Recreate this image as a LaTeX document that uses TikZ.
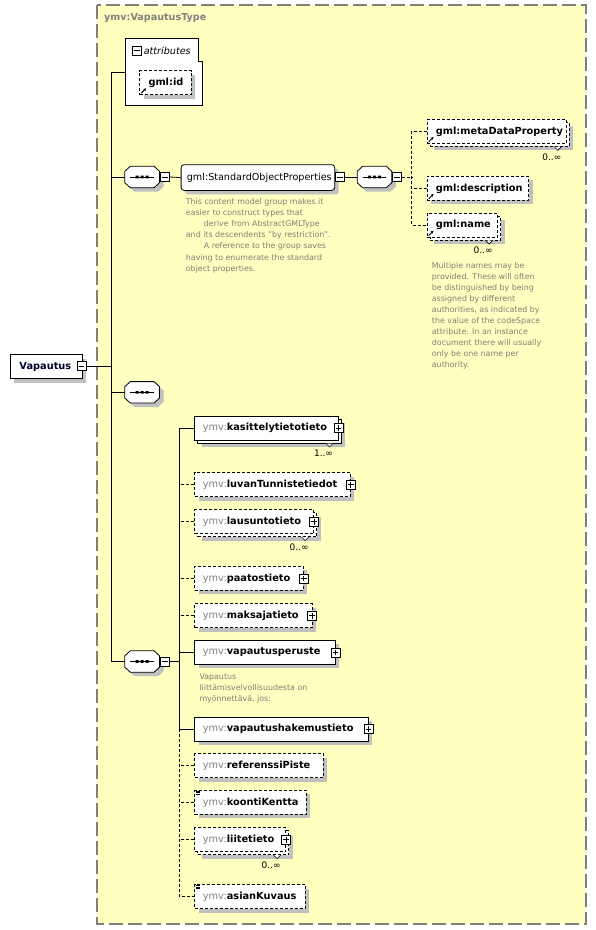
\documentclass[tikz,border=0pt]{standalone}
\usepackage{fontspec}
\setmainfont{DejaVu Sans}
\usetikzlibrary{arrows.meta}
\definecolor{bgy}{RGB}{255,255,192}
\definecolor{bord}{RGB}{128,128,128}
\definecolor{shad}{RGB}{192,192,192}
\definecolor{annc}{RGB}{128,128,120}
\definecolor{pref}{RGB}{128,128,128}
\definecolor{navy}{RGB}{0,0,48}
\newcommand\ymv{{\mdseries\color{pref}ymv:}}
\tikzset{
  shd/.style={preaction={fill=shad, transform canvas={shift={(4pt,-4pt)}}}},
  ebox/.style={draw, fill=white, line width=0.8pt, minimum height=24pt, anchor=north west, inner sep=0},
  dbox/.style={ebox, dash pattern=on 3pt off 2pt},
  ename/.style={font=\fontsize{9.8}{11}\selectfont\bfseries, inner sep=0, anchor=west},
  rname/.style={font=\fontsize{9.6}{11}\selectfont, inner sep=0, anchor=west},
  ann/.style={font=\fontsize{7.9}{11.1}\selectfont, text=annc, align=left, inner sep=0, anchor=north west},
  mult/.style={font=\fontsize{9}{10}\selectfont, inner sep=0},
  conn/.style={line width=0.8pt},
  dconn/.style={line width=0.8pt, dash pattern=on 3pt off 2pt},
  plusb/.style={draw, fill=white, minimum size=9pt, inner sep=0, line width=0.7pt,
    path picture={\draw[line width=0.7pt] ([xshift=1.6pt]path picture bounding box.west) -- ([xshift=-1.6pt]path picture bounding box.east)
      ([yshift=-1.6pt]path picture bounding box.north) -- ([yshift=1.6pt]path picture bounding box.south);}},
  minusb/.style={draw, fill=white, minimum size=9pt, inner sep=0, line width=0.7pt,
    path picture={\draw[line width=0.7pt] ([xshift=1.6pt]path picture bounding box.west) -- ([xshift=-1.6pt]path picture bounding box.east);}},
  octn/.style={draw=none, minimum width=34.3pt, minimum height=21pt, inner sep=0},
}
% element helpers
\newcommand\xbox[5]{\node[#2, shd, minimum width=#5pt] (#1) at (#3,#4) {};}
\newcommand\xstack[5]{\node[#2, shd, minimum width=#5pt] (#1b) at ({#3+3},{#4+3}) {};
  \node[#2, minimum width=#5pt] (#1) at (#3,#4) {};}
\newcommand\xtext[3]{\node[ename] (#1t) at ([xshift=#2pt]#1.west) {#3};}
\newcommand\xplus[1]{\node[plusb] (#1p) at (#1.east) {};}
\newcommand\xmult[2]{\draw[fill=white, line width=0.6pt] ([xshift=-15.5pt]#1b.south east) -- ([xshift=-12pt,yshift=-3.5pt]#1b.south east) -- ([xshift=-8.5pt]#1b.south east);
  \node[mult] (#1m) at ([xshift=-18pt,yshift=-10pt]#1b.south east) {#2};}
\newcommand\xref[1]{\draw[line width=1pt, -{Stealth[length=2.8pt,width=3pt]}] ([shift={(2pt,2pt)}]#1.south west) -- ([shift={(6.8pt,6.8pt)}]#1.south west);}
\newcommand\xsimple[1]{\draw[line width=0.6pt] ([shift={(1.5pt,-1.2pt)}]#1.north west) -- ++(4.5pt,0pt)
  ([shift={(1.5pt,-2.7pt)}]#1.north west) -- ++(4.5pt,0pt) ([shift={(1.5pt,-4.2pt)}]#1.north west) -- ++(4.5pt,0pt);}
\newcommand\xoct[3]{\node[octn] (#1) at (#2,#3) {};
  \draw[line width=0.8pt, fill=white, shd] ([xshift=5.5pt]#1.north west) -- ([xshift=-5.5pt]#1.north east) -- ([yshift=-5pt]#1.north east)
    -- ([yshift=5pt]#1.south east) -- ([xshift=-5.5pt]#1.south east) -- ([xshift=5.5pt]#1.south west) -- ([yshift=5pt]#1.south west)
    -- ([yshift=-5pt]#1.north west) -- cycle;
  \draw[line width=0.8pt] ([xshift=5.5pt]#1.west) -- ([xshift=-5.5pt]#1.east);
  \fill ([shift={(-6.5pt,-1.3pt)}]#1.center) rectangle ([shift={(-3.5pt,1.3pt)}]#1.center)
        ([shift={(-1.5pt,-1.3pt)}]#1.center) rectangle ([shift={(1.5pt,1.3pt)}]#1.center)
        ([shift={(3.5pt,-1.3pt)}]#1.center) rectangle ([shift={(6.5pt,1.3pt)}]#1.center);}

\begin{document}
\begin{tikzpicture}[x=1pt,y=-1pt]
\useasboundingbox[fill=white] (0,0) rectangle (596,930);
\draw[bord, fill=bgy, line width=1.5pt, dash pattern=on 14pt off 5pt] (97,5) rectangle (586,924);
\node[font=\fontsize{9.6}{11}\selectfont\bfseries, text=pref, anchor=west, inner sep=0] (title) at (104,18) {ymv:VapautusType};

% attributes
\draw[line width=0.8pt, fill=white] (125.7,38.3) -- (198.3,38.3) -- (198.3,61.7) -- (202.7,61.7) -- (202.7,105.3) -- (125.7,105.3) -- cycle;
\coordinate (attr) at (125.7,72);
\node[minusb] (attrm) at (137.3,50.5) {};
\node[font=\fontsize{9.6}{11}\selectfont\itshape, anchor=west, inner sep=0] (attrt) at (143.6,50.5) {attributes};
\xbox{gid}{dbox}{139.3}{70.3}{51.7}
\xtext{gid}{9}{gml:id}
\xref{gid}

% root
\xbox{vap}{ebox}{10}{354.3}{71.7}
\node[ename, text=navy] (vapt) at ([xshift=9.3pt]vap.west) {Vapautus};
\node[minusb] (vapm) at (81.5,366.3) {};

% compositors
\xoct{seq1}{142.15}{177}
\node[minusb] (seq1m) at (164.7,177) {};
\xoct{seq0}{142.15}{392.3}
\xoct{seq3}{142.15}{661.5}
\node[minusb] (seq3m) at (164.7,661.5) {};
\xoct{seq2}{374.5}{177}
\node[minusb] (seq2m) at (396.7,177) {};

% group
\node[draw, fill=white, line width=0.8pt, rounded corners=3pt, shd, minimum width=153.6pt, minimum height=25.7pt, inner sep=0, anchor=north west] (sop) at (180.7,164.3) {};
\node[rname] (sopt) at ([xshift=6pt]sop.west) {gml:StandardObjectProperties};
\node[minusb] (sopm) at (339.7,177) {};
\node[ann] (sopa) at (185.7,198.3) {This content model group makes it\\easier to construct types that\\\hspace*{18pt}derive from AbstractGMLType\\and its descendents "by restriction".\\\hspace*{18pt}A reference to the group saves\\having to enumerate the standard\\object properties.};

% gml elements
\xstack{meta}{dbox}{426.7}{119}{139.3}
\xtext{meta}{9}{gml:metaDataProperty}
\xref{meta}
\xmult{meta}{0..∞}
\xbox{desc}{dbox}{426.7}{176}{101.6}
\xtext{desc}{9}{gml:description}
\xref{desc}
\xstack{gname}{dbox}{426.7}{212.7}{70.6}
\xtext{gname}{9}{gml:name}
\xref{gname}
\xmult{gname}{0..∞}
\node[ann] (namea) at (431.7,261.8) {Multiple names may be\\provided.  These will often\\be distinguished by being\\assigned by different\\authorities, as indicated by\\the value of the codeSpace\\attribute.  In an instance\\document there will usually\\only be one name per\\authority.};

% ymv elements
\xstack{kas}{ebox}{194.3}{415.7}{143.4}
\xtext{kas}{8.4}{\ymv kasittelytietotieto}
\xplus{kas}
\xmult{kas}{1..∞}
\xbox{luv}{dbox}{194.3}{472.3}{155.7}
\xtext{luv}{8.4}{\ymv luvanTunnistetiedot}
\xplus{luv}
\xstack{lau}{dbox}{194.3}{509.3}{119}
\xtext{lau}{8.4}{\ymv lausuntotieto}
\xplus{lau}
\xmult{lau}{0..∞}
\xbox{paa}{dbox}{194.3}{566}{108.5}
\xtext{paa}{8.4}{\ymv paatostieto}
\xplus{paa}
\xbox{mak}{dbox}{194.3}{603.3}{117.2}
\xtext{mak}{8.4}{\ymv maksajatieto}
\xplus{mak}
\xbox{vpe}{ebox}{194.3}{640}{140.4}
\xtext{vpe}{8.4}{\ymv vapautusperuste}
\xplus{vpe}
\node[ann] (vpea) at (199.3,673.6) {Vapautus\\liittämisvelvollisuudesta on\\myönnettävä, jos:};
\xbox{vha}{ebox}{194.3}{716.7}{173.4}
\xtext{vha}{8.4}{\ymv vapautushakemustieto}
\xplus{vha}
\xbox{ref}{dbox}{194.3}{753.3}{128.4}
\xtext{ref}{8.4}{\ymv referenssiPiste}
\xbox{koo}{dbox}{194.3}{790}{111.4}
\xtext{koo}{8.4}{\ymv koontiKentta}
\xsimple{koo}
\xstack{lii}{dbox}{194.3}{827.3}{91}
\xtext{lii}{8.4}{\ymv liitetieto}
\xplus{lii}
\xmult{lii}{0..∞}
\xbox{asi}{dbox}{194.3}{884.3}{110.7}
\xtext{asi}{8.4}{\ymv asianKuvaus}
\xsimple{asi}

% connectors
\coordinate (trx) at (111,0);
\coordinate (ltx) at (179.3,0);
\coordinate (rtx) at (411.7,0);
\draw[conn] (attr) -- (attr -| trx) -- (seq3.west -| trx) -- (seq3.west);
\draw[conn] (seq1.west) -- (seq1.west -| trx);
\draw[conn] (seq0.west) -- (seq0.west -| trx);
\draw[conn] (vapm.east) -- (vapm.east -| trx);
\draw[conn] (seq1m.east) -- (sop.west);
\draw[conn] (sopm.east) -- (seq2.west);
\draw[dconn] (seq2m.east) -- (seq2m.east -| rtx);
\draw[dconn] (meta.west) -- (meta.west -| rtx) -- (gname.west -| rtx) -- (gname.west);
\draw[dconn] (desc.west) -- (desc.west -| rtx);
\draw[conn] (seq3m.east) -- (seq3m.east -| ltx);
\draw[conn] (kas.west) -- (kas.west -| ltx) -- (vha.west -| ltx) -- (vha.west);
\draw[dconn] (vha.west -| ltx) -- (asi.west -| ltx) -- (asi.west);
\draw[conn] (vpe.west) -- (vpe.west -| ltx);
\foreach \n in {luv,lau,paa,mak,ref,koo,lii} {\draw[dconn] (\n.west) -- (\n.west -| ltx);}
\end{tikzpicture}
\end{document}
